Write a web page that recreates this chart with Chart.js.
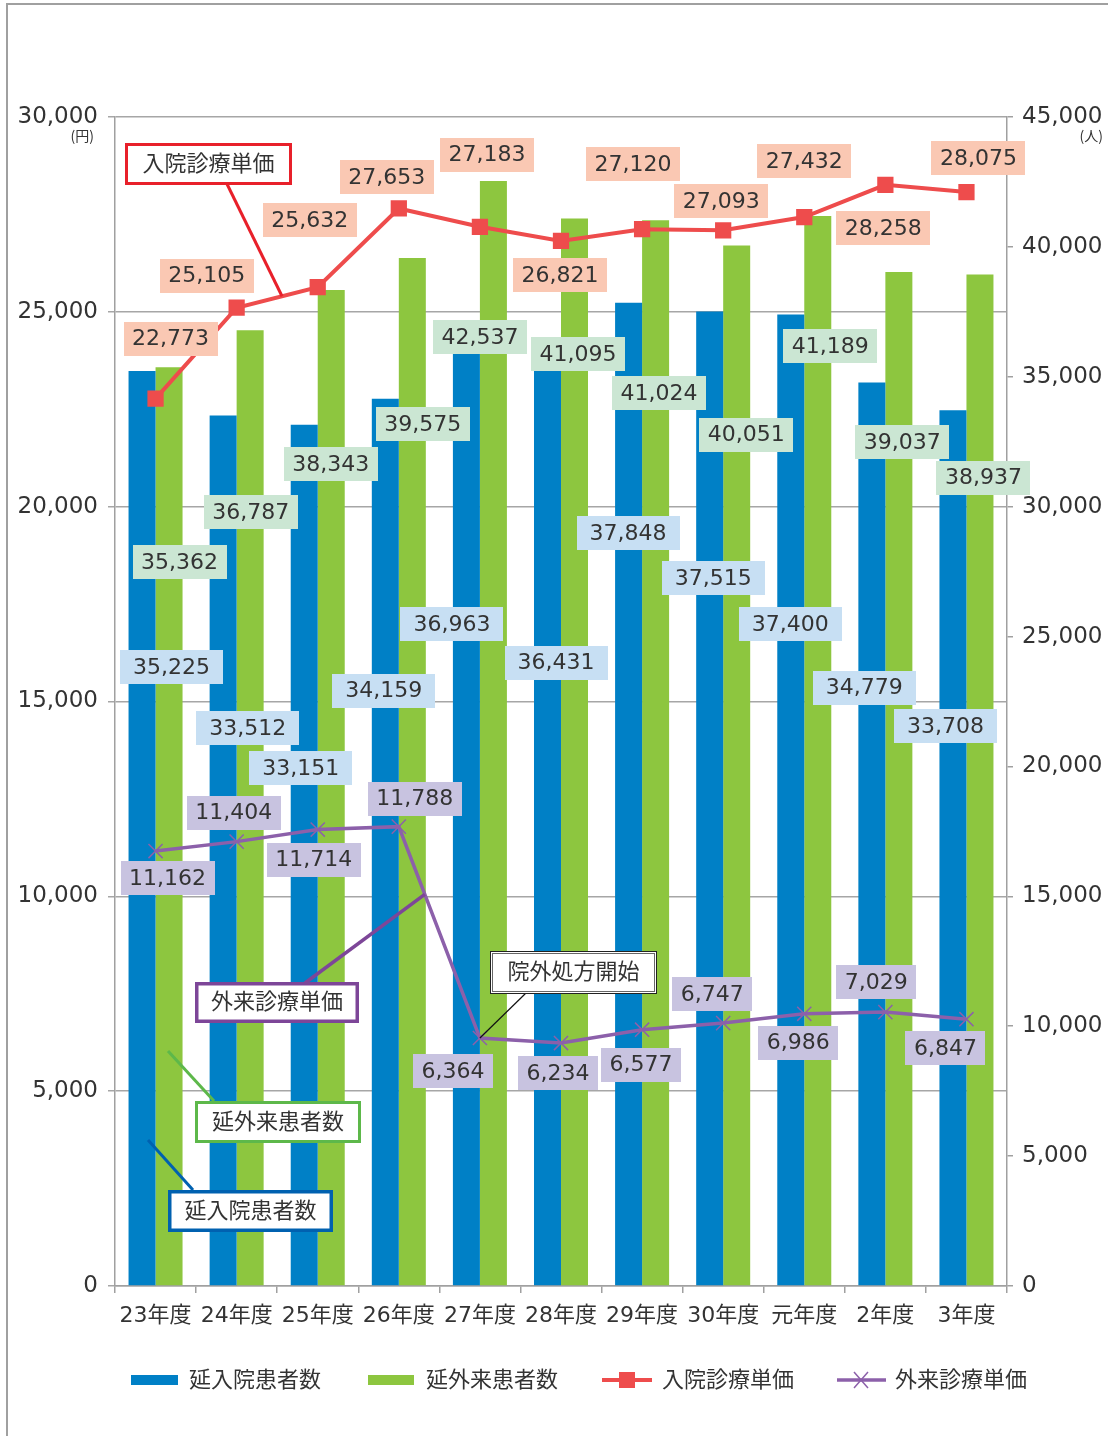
<!DOCTYPE html>
<html>
<head>
<meta charset="utf-8">
<script src="https://cdn.jsdelivr.net/npm/chart.js@4.4.1/dist/chart.umd.min.js"></script>
<style>
html,body{margin:0;padding:0;background:#fff;}
#wrap{width:1108px;height:1436px;position:relative;}
</style>
</head>
<body>
<div id="wrap"><canvas id="c"></canvas></div>
<script>
// ---- data ----
const years = ['23年度','24年度','25年度','26年度','27年度','28年度','29年度','30年度','元年度','2年度','3年度'];
const inpatients = [35225, 33512, 33151, 34159, 36963, 36431, 37848, 37515, 37400, 34779, 33708];
const outpatients = [35362, 36787, 38343, 39575, 42537, 41095, 41024, 40051, 41189, 39037, 38937];
const inpatientUnitPrice = [22773, 25105, 25632, 27653, 27183, 26821, 27120, 27093, 27432, 28258, 28075];
const outpatientUnitPrice = [11162, 11404, 11714, 11788, 6364, 6234, 6577, 6747, 6986, 7029, 6847];
const yenAxis = [0, 30000, 5000];     // min, max, step (left)
const personAxis = [0, 45000, 5000];  // min, max, step (right)
const seriesNames = ['延入院患者数', '延外来患者数', '入院診療単価', '外来診療単価'];

// ---- label placement (pixel offsets from the mark) ----
const blueDx  = [16, 11, -17, -15, -28, -5, -14, -10, -14, -21, -21];
const blueDy  = [296, 313, 343, 292, 298, 323, 230, 267, 310, 305, 316];
const greenDx = [24, 14, 13, 24, 0, 17, 17, 23, 26, 17, 17];
const greenDy = [195, 182, 174, 166, 156, 136, 173, 189, 130, 170, 203];
const redDx   = [15, -30, -8, -12, 7, -1, -9, -2, 0, -2, 12];
const redDy   = [-60, -32, -67, -31, -72, 34, -65, -29, -56, 43, -34];
const purpDx  = [12, -3, -4, 16, -27, -3, -1, -11, -6, -9, -21];
const purpDy  = [27, -29, 30, -28, 33, 30, 35, -29, 29, -30, 29];

const C_BLUE = '#0080C6', C_GREEN = '#8DC63F', C_RED = '#EE4C4C', C_PURP = '#8C60AA';
const FONT = "'DejaVu Sans', 'Noto Sans CJK JP', sans-serif";
const TXT = '#333333';
const fmt = v => Number(v).toLocaleString('en-US');

const decorPlugin = {
  id: 'decor',
  beforeDraw(chart) {
    const ctx = chart.ctx;
    ctx.save();
    ctx.fillStyle = '#fff';
    ctx.fillRect(0, 0, chart.width, chart.height);
    ctx.strokeStyle = '#A0A0A0';
    ctx.lineWidth = 2;
    ctx.strokeRect(7, 4, 1300, 1600);
    ctx.restore();
  },
  afterDatasetsDraw(chart) {
    const ctx = chart.ctx;
    const xs = chart.scales.x;
    const m0 = chart.getDatasetMeta(0).data, m1 = chart.getDatasetMeta(1).data;
    const m2 = chart.getDatasetMeta(2).data, m3 = chart.getDatasetMeta(3).data;
    const lerp = (a, b, t) => [a.x + (b.x - a.x) * t, a.y + (b.y - a.y) * t];

    function line(x1, y1, x2, y2, color, w) {
      ctx.save();
      ctx.strokeStyle = color; ctx.lineWidth = w; ctx.lineCap = 'butt';
      ctx.beginPath(); ctx.moveTo(x1, y1); ctx.lineTo(x2, y2); ctx.stroke();
      ctx.restore();
    }
    function callout(x1, y1, x2, y2, text, color, bw) {
      ctx.save();
      ctx.fillStyle = '#fff';
      ctx.fillRect(x1, y1, x2 - x1, y2 - y1);
      ctx.strokeStyle = color; ctx.lineWidth = bw;
      ctx.strokeRect(x1 + bw / 2, y1 + bw / 2, x2 - x1 - bw, y2 - y1 - bw);
      ctx.fillStyle = TXT;
      ctx.font = '22px ' + FONT;
      ctx.textAlign = 'center'; ctx.textBaseline = 'middle';
      ctx.fillText(text, (x1 + x2) / 2, (y1 + y2) / 2 + 1);
      ctx.restore();
    }

    // leader lines (under boxes)
    const pRed = lerp(m2[1], m2[2], 0.56);
    line(227, 184, pRed[0], pRed[1], '#E8202A', 3);
    const pPur = lerp(m3[3], m3[4], 0.32);
    line(305, 983, pPur[0], pPur[1], '#7D4698', 3.5);
    line(526, 993, m3[4].x, m3[4].y, '#111', 1.2);
    line(214, 1101, 168, 1051, '#5DB84A', 3);
    line(193, 1190, 148, 1140, '#0061B0', 3);

    // value labels
    function labels(vals, getPt, dx, dy, bg, padX) {
      ctx.save();
      ctx.font = '22px ' + FONT;
      ctx.textAlign = 'center'; ctx.textBaseline = 'middle';
      vals.forEach((v, i) => {
        const p = getPt(i);
        const cx = p[0] + dx[i], cy = p[1] + dy[i];
        const t = fmt(v);
        const w = ctx.measureText(t).width + padX * 2, h = 34;
        ctx.fillStyle = bg;
        ctx.fillRect(Math.round(cx - w / 2), Math.round(cy - h / 2), Math.round(w), h);
        ctx.fillStyle = TXT;
        ctx.fillText(t, cx, cy + 1);
      });
      ctx.restore();
    }
    labels(inpatients, i => [xs.getPixelForValue(i), m0[i].y], blueDx, blueDy, '#C7DFF3', 13);
    labels(outpatients, i => [xs.getPixelForValue(i), m1[i].y], greenDx, greenDy, '#CBE6D3', 8.5);
    labels(inpatientUnitPrice, i => [m2[i].x, m2[i].y], redDx, redDy, '#FAC8B3', 8.5);
    labels(outpatientUnitPrice, i => [m3[i].x, m3[i].y], purpDx, purpDy, '#C8C3E0', 8.5);

    // callout boxes
    callout(125, 143, 292, 185, seriesNames[2], '#E8202A', 3);
    callout(195, 982, 359, 1023, seriesNames[3], '#7D4698', 3.5);
    callout(195, 1101, 361, 1143, seriesNames[1], '#5DB84A', 3);
    callout(168, 1190, 333, 1232, seriesNames[0], '#0061B0', 3.5);
    // 院外処方開始 (double thin border)
    ctx.save();
    ctx.fillStyle = '#fff';
    ctx.fillRect(490, 951, 167, 43);
    ctx.strokeStyle = '#222'; ctx.lineWidth = 1;
    ctx.strokeRect(490.5, 951.5, 166, 42);
    ctx.strokeStyle = '#666';
    ctx.strokeRect(492.5, 953.5, 162, 38);
    ctx.fillStyle = TXT; ctx.font = '22px ' + FONT;
    ctx.textAlign = 'center'; ctx.textBaseline = 'middle';
    ctx.fillText('院外処方開始', 573.5, 973);
    ctx.restore();
  },
  afterDraw(chart) {
    const ctx = chart.ctx;
    ctx.save();
    // units
    ctx.fillStyle = TXT;
    ctx.font = "14px 'Noto Sans CJK JP', sans-serif";
    ctx.textBaseline = 'middle';
    ctx.textAlign = 'right';
    ctx.fillText('(円)', 94, 136);
    ctx.fillText('(人)', 1103, 136);

    // legend
    const ly = 1380;
    ctx.font = '22px ' + FONT;
    ctx.textAlign = 'left';
    ctx.fillStyle = C_BLUE; ctx.fillRect(131, ly - 5, 47, 10);
    ctx.fillStyle = C_GREEN; ctx.fillRect(368, ly - 5, 46, 10);
    ctx.strokeStyle = C_RED; ctx.lineWidth = 4;
    ctx.beginPath(); ctx.moveTo(602, ly); ctx.lineTo(652, ly); ctx.stroke();
    ctx.fillStyle = C_RED; ctx.fillRect(619, ly - 8, 16, 16);
    ctx.strokeStyle = C_PURP; ctx.lineWidth = 3.5;
    ctx.beginPath(); ctx.moveTo(837, ly); ctx.lineTo(886, ly); ctx.stroke();
    ctx.lineWidth = 1.5;
    ctx.beginPath();
    ctx.moveTo(854, ly - 8); ctx.lineTo(868, ly + 8);
    ctx.moveTo(868, ly - 8); ctx.lineTo(854, ly + 8);
    ctx.stroke();
    ctx.fillStyle = TXT;
    ctx.fillText(seriesNames[0], 189, ly + 1);
    ctx.fillText(seriesNames[1], 426, ly + 1);
    ctx.fillText(seriesNames[2], 662, ly + 1);
    ctx.fillText(seriesNames[3], 895, ly + 1);
    ctx.restore();
  }
};

new Chart(document.getElementById('c'), {
  type: 'bar',
  data: {
    labels: years,
    datasets: [
      { label: seriesNames[0], data: inpatients, yAxisID: 'y2', backgroundColor: C_BLUE, order: 3,
        categoryPercentage: 0.666, barPercentage: 1.0 },
      { label: seriesNames[1], data: outpatients, yAxisID: 'y2', backgroundColor: C_GREEN, order: 3,
        categoryPercentage: 0.666, barPercentage: 1.0 },
      { type: 'line', label: seriesNames[2], data: inpatientUnitPrice, yAxisID: 'y', order: 1,
        borderColor: C_RED, borderWidth: 4, tension: 0, pointStyle: 'rect', pointRadius: 11.5,
        pointBackgroundColor: C_RED, pointBorderWidth: 0, pointHoverRadius: 11.5 },
      { type: 'line', label: seriesNames[3], data: outpatientUnitPrice, yAxisID: 'y', order: 0,
        borderColor: C_PURP, borderWidth: 3.5, tension: 0, pointStyle: 'crossRot', pointRadius: 10,
        pointBorderColor: C_PURP, pointBorderWidth: 1.5, pointBackgroundColor: C_PURP }
    ]
  },
  options: {
    responsive: true,
    maintainAspectRatio: false,
    animation: false,
    events: [],
    layout: { padding: { top: 117, bottom: 0, left: 0, right: 0 } },
    plugins: { legend: { display: false }, tooltip: { enabled: false } },
    scales: {
      x: {
        offset: true,
        grid: { display: true, drawOnChartArea: false, drawTicks: true, tickLength: 7, color: '#A0A0A0', lineWidth: 1.5, offset: true },
        border: { display: true, color: '#A0A0A0', width: 1.5 },
        ticks: { color: TXT, font: { family: FONT, size: 22 }, padding: 10, maxRotation: 0, autoSkip: false },
        afterFit(s) { s.height = 150; }
      },
      y: {
        position: 'left',
        min: yenAxis[0], max: yenAxis[1],
        ticks: { stepSize: yenAxis[2], color: TXT, font: { family: FONT, size: 23 }, padding: 10, callback: v => fmt(v) },
        grid: { color: '#A6A6A6', lineWidth: 1.5, tickLength: 7 },
        border: { display: true, color: '#A0A0A0', width: 1.5 },
        afterFit(s) { s.width = 115; }
      },
      y2: {
        position: 'right',
        min: personAxis[0], max: personAxis[1],
        ticks: { stepSize: personAxis[2], color: TXT, font: { family: FONT, size: 23 }, padding: 9, callback: v => fmt(v) },
        grid: { drawOnChartArea: false, color: '#A0A0A0', lineWidth: 1.5, tickLength: 6 },
        border: { display: true, color: '#A0A0A0', width: 1.5 },
        afterFit(s) { s.width = 101; }
      }
    }
  },
  plugins: [decorPlugin]
});
</script>
</body>
</html>
